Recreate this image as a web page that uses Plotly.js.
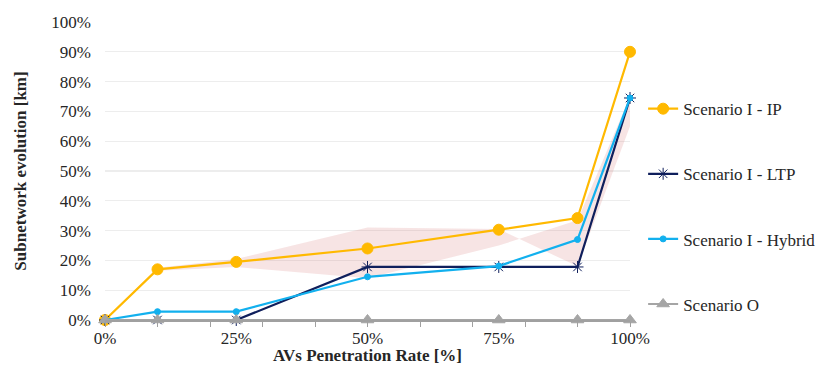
<!DOCTYPE html>
<html>
<head>
<meta charset="utf-8">
<script src="https://cdn.plot.ly/plotly-3.0.1.min.js"></script>
<style>
html,body{margin:0;padding:0;background:#fff}
#chart{width:824px;height:365px}
</style>
</head>
<body>
<div id="chart"></div>
<script>
// Penetration rates (%)
const penetration = [0, 10, 25, 50, 75, 90, 100];
// Series values (% subnetwork evolution)
const scenarioIP = [0, 17, 19.5, 24, 30.3, 34.2, 90];
const scenarioLTP = [0, 0, 0, 17.8, 17.8, 17.8, 74.5];
const scenarioHybrid = [0, 2.8, 2.8, 14.5, 18.1, 27, 74.5];
const scenarioO = [0, 0, 0, 0, 0, 0, 0];
// Shaded band edges
const bandX = [0, 10, 25, 50, 75, 90, 100];
const bandEdgeA = [0, 17.5, 20.5, 31, 30.5, 18, 65];
const bandEdgeB = [0, 16.5, 17.8, 14, 25, 33.5, 75];
const xTicks = [0, 25, 50, 75, 100];
const xTickText = ['0%', '25%', '50%', '75%', '100%'];

const font = "Liberation Serif, Times New Roman, serif";

const band = {
  x: bandX.concat(bandX.slice().reverse()),
  y: bandEdgeA.concat(bandEdgeB.slice().reverse()),
  type: 'scatter', mode: 'lines', fill: 'toself',
  fillcolor: 'rgba(214,120,120,0.2)', line: {width: 0},
  hoverinfo: 'skip', showlegend: false
};

function series(name, y, color, sym, size, group) {
  return {
    x: penetration, y: y, name: name, type: 'scatter', mode: 'lines+markers',
    line: {color: color, width: 2.2},
    marker: {symbol: sym, size: size, color: color, line: {color: sym === 'asterisk-open' ? '#5a6a9a' : color, width: 1}},
    cliponaxis: false, legendgroup: group
  };
}

const traces = [
  band,
  series('Scenario I - IP', scenarioIP, '#FFB900', 'circle', 11, 'a'),
  series('Scenario I - LTP', scenarioLTP, '#0F1F5C', 'asterisk-open', 10, 'b'),
  series('Scenario I - Hybrid', scenarioHybrid, '#12B0EE', 'circle', 6, 'c'),
  series('Scenario O', scenarioO, '#A5A5A5', 'triangle-up', 11, 'd')
];

const layout = {
  width: 824, height: 365,
  margin: {l: 105, r: 194, t: 22, b: 45, autoexpand: false},
  paper_bgcolor: '#fff', plot_bgcolor: '#fff',
  font: {family: font, size: 17, color: '#262626'},
  showlegend: true,
  legend: {x: 1.025, xanchor: 'left', y: 0.768, yanchor: 'top',
           font: {family: font, size: 17, color: '#262626'},
           traceorder: 'grouped', tracegroupgap: 40, itemwidth: 30},
  xaxis: {
    range: [0, 100], tickmode: 'array', tickvals: xTicks, ticktext: xTickText, ticks: '',
    tickfont: {family: font, size: 17, color: '#262626'},
    showgrid: false, zeroline: false, showline: true, linecolor: '#A0A0A0', linewidth: 1.5,
    minor: {dtick: 10, tick0: 0, ticks: 'outside', ticklen: 5, tickcolor: '#A0A0A0', showgrid: false},
    ticklabelstandoff: 2,
    title: {text: '<b>AVs Penetration Rate [%]</b>', font: {family: font, size: 17, color: '#262626'}, standoff: 5},
    automargin: false
  },
  yaxis: {
    range: [0, 100], dtick: 10, ticksuffix: '%', ticks: '',
    tickfont: {family: font, size: 17, color: '#262626'},
    showgrid: true, gridcolor: '#EDEDED', gridwidth: 1.2, zeroline: false, showline: false,
    ticklabelstandoff: 13,
    title: {text: '<b>Subnetwork evolution [km]</b>', font: {family: font, size: 17, color: '#262626'}, standoff: 20},
    automargin: false
  }
};

Plotly.newPlot('chart', traces, layout, {displayModeBar: false, staticPlot: true});
</script>
</body>
</html>
